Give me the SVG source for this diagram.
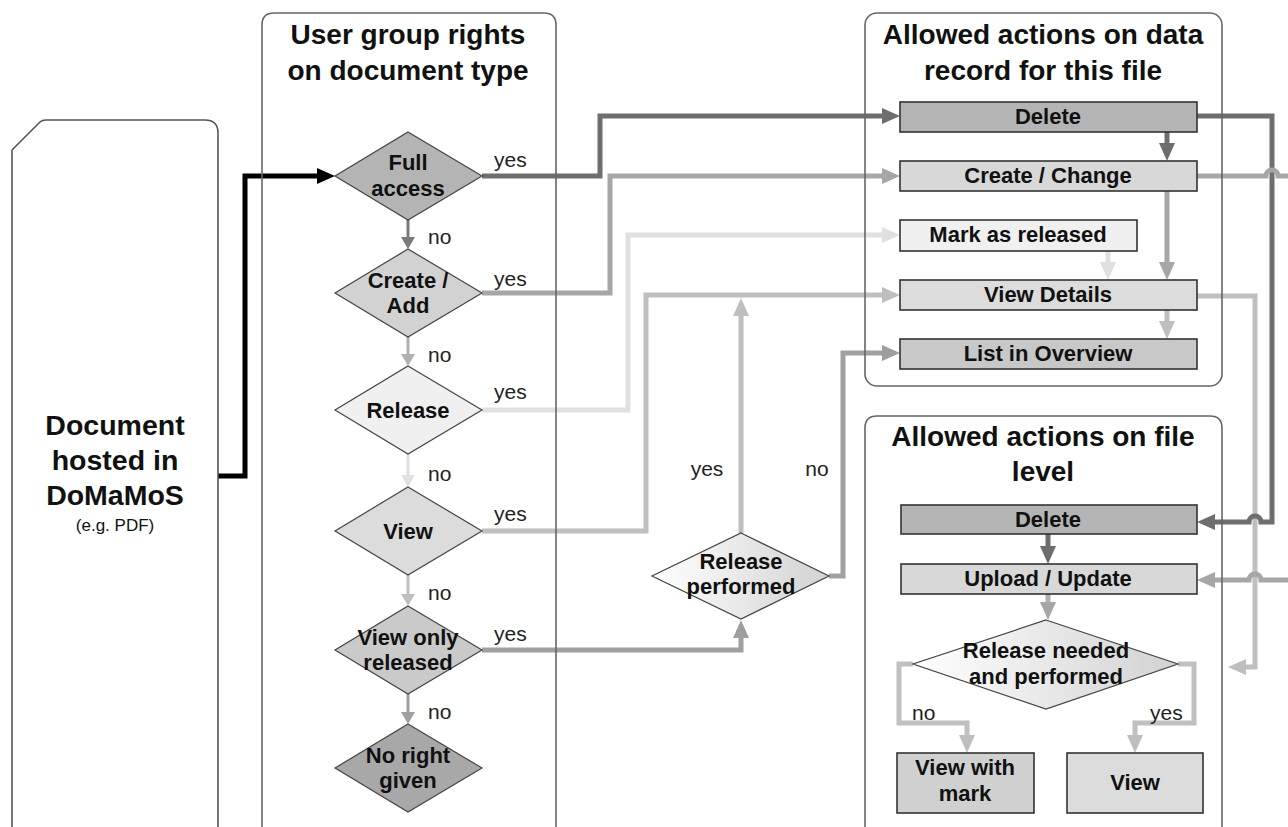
<svg xmlns="http://www.w3.org/2000/svg" width="1288" height="827" viewBox="0 0 1288 827">
<style>
  text { font-family: "Liberation Sans", Arial, sans-serif; fill: #111; }
  .h { font-size: 28px; font-weight: bold; text-anchor: middle; }
  .b { font-size: 22px; font-weight: bold; text-anchor: middle; }
  .d { font-size: 22px; font-weight: bold; text-anchor: middle; }
  .l { font-size: 21px; fill: #222; }
  .lane { fill: none; stroke: #666; stroke-width: 1.6; }
  .box { stroke: #333; stroke-width: 1.6; }
  .dia { stroke: #444; stroke-width: 1.2; }
  .c { fill: none; stroke-width: 5; stroke-linejoin: miter; }
  .n { fill: none; stroke-width: 3; }
</style>
<defs>
  <linearGradient id="gr" x1="0" y1="0" x2="1" y2="0">
    <stop offset="0" stop-color="#ffffff"/>
    <stop offset="1" stop-color="#d2d2d2"/>
  </linearGradient>
  <marker id="aK" markerUnits="userSpaceOnUse" viewBox="0 -8 18 16" refX="0" refY="0" markerWidth="18" markerHeight="16" orient="auto"><path d="M0,-8 L18,0 L0,8 z" fill="#000"/></marker>
  <marker id="aD" markerUnits="userSpaceOnUse" viewBox="0 -8 18 16" refX="0" refY="0" markerWidth="18" markerHeight="16" orient="auto"><path d="M0,-8 L18,0 L0,8 z" fill="#6e6e6e"/></marker>
  <marker id="aM" markerUnits="userSpaceOnUse" viewBox="0 -8 18 16" refX="0" refY="0" markerWidth="18" markerHeight="16" orient="auto"><path d="M0,-8 L18,0 L0,8 z" fill="#a6a6a6"/></marker>
  <marker id="aL" markerUnits="userSpaceOnUse" viewBox="0 -8 18 16" refX="0" refY="0" markerWidth="18" markerHeight="16" orient="auto"><path d="M0,-8 L18,0 L0,8 z" fill="#e0e0e0"/></marker>
  <marker id="aS" markerUnits="userSpaceOnUse" viewBox="0 -8 18 16" refX="0" refY="0" markerWidth="18" markerHeight="16" orient="auto"><path d="M0,-8 L18,0 L0,8 z" fill="#bfbfbf"/></marker>
  <marker id="aG" markerUnits="userSpaceOnUse" viewBox="0 -8 18 16" refX="0" refY="0" markerWidth="18" markerHeight="16" orient="auto"><path d="M0,-8 L18,0 L0,8 z" fill="#9e9e9e"/></marker>
  <marker id="sD" markerUnits="userSpaceOnUse" viewBox="0 -7 12 14" refX="0" refY="0" markerWidth="12" markerHeight="14" orient="auto"><path d="M0,-7 L12,0 L0,7 z" fill="#7a7a7a"/></marker>
  <marker id="sM" markerUnits="userSpaceOnUse" viewBox="0 -7 12 14" refX="0" refY="0" markerWidth="12" markerHeight="14" orient="auto"><path d="M0,-7 L12,0 L0,7 z" fill="#b0b0b0"/></marker>
  <marker id="sL" markerUnits="userSpaceOnUse" viewBox="0 -7 12 14" refX="0" refY="0" markerWidth="12" markerHeight="14" orient="auto"><path d="M0,-7 L12,0 L0,7 z" fill="#e0e0e0"/></marker>
  <marker id="sS" markerUnits="userSpaceOnUse" viewBox="0 -7 12 14" refX="0" refY="0" markerWidth="12" markerHeight="14" orient="auto"><path d="M0,-7 L12,0 L0,7 z" fill="#c0c0c0"/></marker>
  <marker id="sG" markerUnits="userSpaceOnUse" viewBox="0 -7 12 14" refX="0" refY="0" markerWidth="12" markerHeight="14" orient="auto"><path d="M0,-7 L12,0 L0,7 z" fill="#a0a0a0"/></marker>
</defs>
<rect width="1288" height="827" fill="#fff"/>

<g id="connectors">
  <path class="c" stroke="#000" marker-end="url(#aK)" d="M218,476 H245 V176 H317"/>
  <path class="c" stroke="#6e6e6e" marker-end="url(#aD)" d="M482,176 H600 V116 H882"/>
  <path class="c" stroke="#a6a6a6" marker-end="url(#aM)" d="M482,293 H610 V176 H882"/>
  <path class="c" stroke="#e0e0e0" marker-end="url(#aL)" d="M482,410 H628 V235 H882"/>
  <path class="c" stroke="#bfbfbf" marker-end="url(#aS)" d="M482,531 H646 V295 H882"/>
  <path class="c" stroke="#a0a0a0" marker-end="url(#aG)" d="M482,650 H741 V638"/>
  <path class="c" stroke="#bfbfbf" marker-end="url(#aS)" d="M741,533 V316"/>
  <path class="c" stroke="#a0a0a0" marker-end="url(#aG)" d="M829,576 H843 V353 H882"/>
  <path class="c" stroke="#6e6e6e" marker-end="url(#aD)" d="M1167,132 V143"/>
  <path class="c" stroke="#a6a6a6" marker-end="url(#aM)" d="M1167,191 V262"/>
  <path class="c" stroke="#e0e0e0" marker-end="url(#aL)" d="M1108,251 V262"/>
  <path class="c" stroke="#bfbfbf" marker-end="url(#aS)" d="M1167,310 V321"/>
  <path class="c" stroke="#bfbfbf" marker-end="url(#aS)" d="M1197,296 H1255 V667 H1246"/>
  <path class="c" stroke="#6e6e6e" marker-end="url(#aD)" d="M1197,116 H1272 V522 H1261 a6,6 0 0 0 -12,0 H1215"/>
  <path class="c" stroke="#a6a6a6" d="M1197,176 H1266 a6,6 0 0 1 12,0 H1292"/>
  <path class="c" stroke="#a6a6a6" marker-end="url(#aM)" d="M1292,580 H1261 a6,6 0 0 0 -12,0 H1215"/>
  <path class="c" stroke="#6e6e6e" marker-end="url(#aD)" d="M1048,534 V546"/>
  <path class="c" stroke="#b0b0b0" marker-end="url(#aM)" d="M1048,594 V602"/>
  <path class="c" stroke="#c0c0c0" marker-end="url(#aS)" d="M913,664 H899 V723 H967 V735"/>
  <path class="c" stroke="#c0c0c0" marker-end="url(#aS)" d="M1178,664 H1194 V723 H1135 V735"/>
  <path class="n" stroke="#7a7a7a" marker-end="url(#sD)" d="M408,220 V237"/>
  <path class="n" stroke="#b0b0b0" marker-end="url(#sM)" d="M408,337 V354"/>
  <path class="n" stroke="#e0e0e0" marker-end="url(#sL)" d="M408,454 V475"/>
  <path class="n" stroke="#c0c0c0" marker-end="url(#sS)" d="M408,575 V594"/>
  <path class="n" stroke="#a0a0a0" marker-end="url(#sG)" d="M408,694 V712"/>
  <text class="l" x="428" y="244">no</text>
  <text class="l" x="428" y="362">no</text>
  <text class="l" x="428" y="481">no</text>
  <text class="l" x="428" y="600">no</text>
  <text class="l" x="428" y="719">no</text>
  <text class="l" x="494" y="167">yes</text>
  <text class="l" x="494" y="286">yes</text>
  <text class="l" x="494" y="399">yes</text>
  <text class="l" x="494" y="521">yes</text>
  <text class="l" x="494" y="641">yes</text>
  <text class="l" x="707" y="476" text-anchor="middle">yes</text>
  <text class="l" x="817" y="476" text-anchor="middle">no</text>
  <text class="l" x="912" y="720">no</text>
  <text class="l" x="1150" y="720">yes</text>
</g>

<g id="document">
  <path d="M12,150 L40,122 Q42,120 46,120 H205 Q218,120 218,133 V840 M12,150 V840" fill="none" stroke="#555" stroke-width="1.6"/>
  <text x="115" y="435" style="font-size:28.5px;font-weight:bold;text-anchor:middle">Document</text>
  <text x="115" y="470" style="font-size:28.5px;font-weight:bold;text-anchor:middle">hosted in</text>
  <text x="115" y="505" style="font-size:28.5px;font-weight:bold;text-anchor:middle">DoMaMoS</text>
  <text x="115" y="531" style="font-size:17px;text-anchor:middle">(e.g. PDF)</text>
</g>

<g id="lane-rights">
  <path class="lane" d="M262,840 V25 Q262,13 274,13 H544 Q556,13 556,25 V840"/>
  <text class="h" x="408" y="44">User group rights</text>
  <text class="h" x="408" y="80">on document type</text>
</g>
<g id="lane-record">
  <rect class="lane" x="865" y="13" width="357" height="373" rx="12"/>
  <text class="h" x="1043" y="44">Allowed actions on data</text>
  <text class="h" x="1043" y="80">record for this file</text>
</g>
<g id="lane-file">
  <path class="lane" d="M865,830 V428 Q865,416 877,416 H1210 Q1222,416 1222,428 V830"/>
  <text class="h" x="1043" y="446">Allowed actions on file</text>
  <text class="h" x="1043" y="481">level</text>
</g>

<g id="d-full"><polygon class="dia" points="408,132 482,176 408,220 335,176" fill="#b4b4b4"/><text class="d" x="408" y="170">Full</text><text class="d" x="408" y="196">access</text></g>
<g id="d-create"><polygon class="dia" points="408,249 482,293 408,337 335,293" fill="#d2d2d2"/><text class="d" x="408" y="288">Create /</text><text class="d" x="408" y="313">Add</text></g>
<g id="d-release"><polygon class="dia" points="408,366 482,410 408,454 335,410" fill="#f0f0f0"/><text class="d" x="408" y="418">Release</text></g>
<g id="d-view"><polygon class="dia" points="408,487 482,531 408,575 335,531" fill="#dcdcdc"/><text class="d" x="408" y="539">View</text></g>
<g id="d-viewreleased"><polygon class="dia" points="408,606 482,650 408,694 335,650" fill="#cacaca"/><text class="d" x="408" y="645">View only</text><text class="d" x="408" y="670">released</text></g>
<g id="d-noright"><polygon class="dia" points="408,724 482,768 408,812 335,768" fill="#a8a8a8"/><text class="d" x="408" y="763">No right</text><text class="d" x="408" y="788">given</text></g>

<g id="d-releaseperformed"><polygon class="dia" points="741,533 829,576 741,619 652,576" fill="url(#gr)"/><text class="d" x="741" y="569">Release</text><text class="d" x="741" y="594">performed</text></g>

<g id="r-delete"><rect class="box" x="900" y="102" width="297" height="30" fill="#b4b4b4"/><text class="b" x="1048" y="124">Delete</text></g>
<g id="r-create"><rect class="box" x="900" y="161" width="297" height="30" fill="#d8d8d8"/><text class="b" x="1048" y="183">Create / Change</text></g>
<g id="r-mark"><rect class="box" x="900" y="220" width="237" height="31" fill="#f0f0f0"/><text class="b" x="1018" y="242">Mark as released</text></g>
<g id="r-viewdetails"><rect class="box" x="900" y="280" width="297" height="30" fill="#dcdcdc"/><text class="b" x="1048" y="302">View Details</text></g>
<g id="r-list"><rect class="box" x="900" y="339" width="297" height="30" fill="#c8c8c8"/><text class="b" x="1048" y="361">List in Overview</text></g>

<g id="f-delete"><rect class="box" x="901" y="505" width="296" height="29" fill="#b4b4b4"/><text class="b" x="1048" y="527">Delete</text></g>
<g id="f-upload"><rect class="box" x="901" y="564" width="296" height="30" fill="#d8d8d8"/><text class="b" x="1048" y="586">Upload / Update</text></g>
<g id="f-releaseneeded"><polygon class="dia" points="1046,620 1178,664 1046,709 913,664" fill="url(#gr)"/><text class="d" x="1046" y="658">Release needed</text><text class="d" x="1046" y="684">and performed</text></g>
<g id="f-viewmark"><rect class="box" x="897" y="753" width="137" height="60" fill="#d0d0d0"/><text class="b" x="965" y="775">View with</text><text class="b" x="965" y="801">mark</text></g>
<g id="f-view"><rect class="box" x="1067" y="753" width="136" height="60" fill="#dcdcdc"/><text class="b" x="1135" y="790">View</text></g>
</svg>
